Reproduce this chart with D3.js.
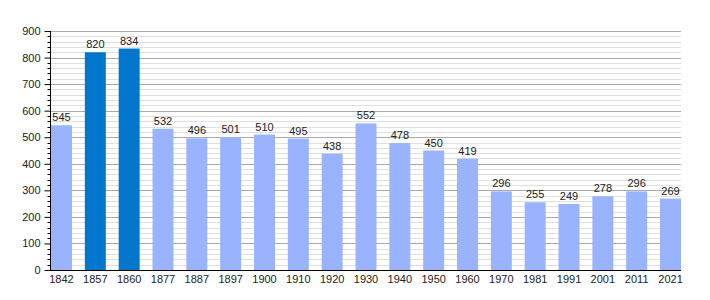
<!DOCTYPE html>
<html>
<head>
<meta charset="utf-8">
<script src="https://cdn.jsdelivr.net/npm/d3@7"></script>
<style>
  body { margin: 0; background: #fff; }
  text { font-family: "Liberation Sans", Arial, sans-serif; font-size: 11px; fill: #222; }
</style>
</head>
<body>
<script>
const years = ['1842', '1857', '1860', '1877', '1887', '1897', '1900', '1910', '1920', '1930',
               '1940', '1950', '1960', '1970', '1981', '1991', '2001', '2011', '2021'];
const population = [545, 820, 834, 532, 496, 501, 510, 495, 438, 552,
                    478, 450, 419, 296, 255, 249, 278, 296, 269];
const highlighted = ['1857', '1860'];
const yTicks = [0, 100, 200, 300, 400, 500, 600, 700, 800, 900];

const w = 710,
      h = 300,
      plotLeft = 50,
      plotRight = 681,
      plotTop = 31,
      plotBottom = 270;

const svg = d3.select('body')
            .append('svg')
            .attr('width', w)
            .attr('height', h);

const x = d3.scaleBand()
            .domain(years)
            .range([plotLeft + 1, plotRight])
            .paddingInner(0.38)
            .paddingOuter(0);

const y = d3.scaleLinear()
            .domain([0, 900])
            .range([plotBottom, plotTop]);

// minor grid every 20
const minor = d3.range(0, 901, 20).filter(v => v % 100 !== 0);
svg.selectAll('line.minor')
    .data(minor)
    .enter()
    .append('line')
    .attr('x1', plotLeft)
    .attr('x2', plotRight)
    .attr('y1', d => Math.round(y(d)) + 0.5)
    .attr('y2', d => Math.round(y(d)) + 0.5)
    .attr('stroke', '#e0e0e0');

svg.selectAll('line.major')
    .data(yTicks.slice(1))
    .enter()
    .append('line')
    .attr('x1', plotLeft)
    .attr('x2', plotRight)
    .attr('y1', d => Math.round(y(d)) + 0.5)
    .attr('y2', d => Math.round(y(d)) + 0.5)
    .attr('stroke', '#aaaaaa');

svg.selectAll('rect')
    .data(population)
    .enter()
    .append('rect')
    .attr('x', (d, i) => x(years[i]))
    .attr('y', d => y(d))
    .attr('width', x.bandwidth())
    .attr('height', d => plotBottom - y(d))
    .attr('fill', (d, i) => highlighted.includes(years[i]) ? '#0077cc' : '#99b3ff');

svg.selectAll('text.val')
    .data(population)
    .enter()
    .append('text')
    .attr('x', (d, i) => x(years[i]) + x.bandwidth() / 2)
    .attr('y', d => y(d) - 4)
    .attr('text-anchor', 'middle')
    .text(d => d);

// y axis with minor ticks
const yAxis = d3.axisLeft(y).tickValues(yTicks).tickSize(6).tickPadding(4);
svg.append('g')
    .attr('transform', 'translate(' + (plotLeft + 0.5) + ',0)')
    .call(yAxis)
    .call(g => g.selectAll('path, line').attr('stroke', '#000'))
    .call(g => g.select('.domain').attr('d', 'M0,' + plotTop + 'V' + (plotBottom + 0.5)))
    .call(g => g.selectAll('text').attr('font-size', 11).attr('font-family', null));

svg.append('g')
    .attr('transform', 'translate(' + (plotLeft + 0.5) + ',0)')
    .selectAll('line')
    .data(minor)
    .enter()
    .append('line')
    .attr('x1', -3)
    .attr('x2', 0)
    .attr('y1', d => Math.round(y(d)) + 0.5)
    .attr('y2', d => Math.round(y(d)) + 0.5)
    .attr('stroke', '#000');

const xAxis = d3.axisBottom(x).tickSize(0).tickPadding(5);
svg.append('g')
    .attr('transform', 'translate(0,' + (plotBottom + 0.5) + ')')
    .call(xAxis)
    .call(g => g.select('.domain').attr('d', 'M' + plotLeft + ',0H' + plotRight).attr('stroke', '#000'))
    .call(g => g.selectAll('text').attr('font-size', 11).attr('font-family', null));
</script>
</body>
</html>
